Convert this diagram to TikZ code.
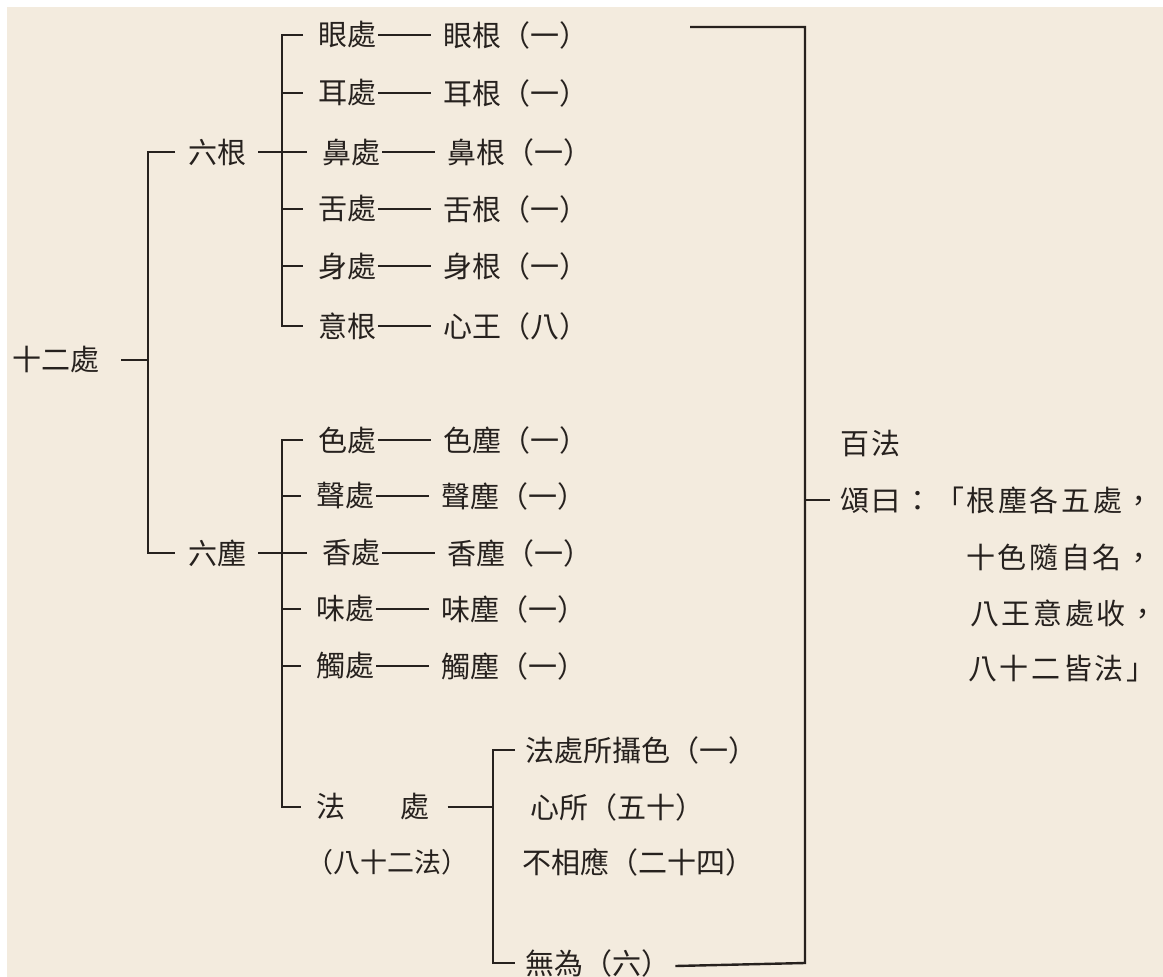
\documentclass[tikz,border=0pt]{standalone}
\usepackage{fontspec}
\newfontfamily\kai{Noto Sans CJK TC}
\newfontfamily\kaiwide[LetterSpace=9]{Noto Sans CJK TC}
\usetikzlibrary{positioning}
\definecolor{paper}{RGB}{243,235,222}
\definecolor{ink}{RGB}{38,33,30}

\begin{document}
\begin{tikzpicture}[x=1pt,y=-1pt,
  txt/.style={anchor=west,inner sep=0pt,text=ink,font=\kai\fontsize{29}{34}\selectfont},
  small/.style={txt,font=\kai\fontsize{27}{30}\selectfont},
  verse/.style={txt,font=\kaiwide\fontsize{29}{34}\selectfont},
  br/.style={draw=ink,line width=2.4pt},
  lnk/.style={draw=ink,line width=2pt,shorten >=12pt,shorten <=2pt}]
  \fill[white] (0,0) rectangle (1163,977);
  \fill[paper] (7,7) rectangle (1163,977);

  % root and the two groups
  \node[txt] (root) at (12,360) {十二處};
  \node[txt] (gen)  at (188,152) {六根};
  \node[txt] (chen) at (188,553) {六塵};

  % six roots
  \node[txt] (y1) at (318,35)  {眼處};
  \node[txt] (y2) at (318,93)  {耳處};
  \node[txt] (y3) at (322,152) {鼻處};
  \node[txt] (y4) at (318,209) {舌處};
  \node[txt] (y5) at (318,266) {身處};
  \node[txt] (y6) at (318,326) {意根};
  \node[txt,right=67pt of y1] (g1) {眼根（一）};
  \node[txt,right=67pt of y2] (g2) {耳根（一）};
  \node[txt,right=67pt of y3] (g3) {鼻根（一）};
  \node[txt,right=67pt of y4] (g4) {舌根（一）};
  \node[txt,right=67pt of y5] (g5) {身根（一）};
  \node[txt,right=67pt of y6] (g6) {心王（八）};

  % six objects
  \node[txt] (c1) at (318,440) {色處};
  \node[txt] (c2) at (316,496) {聲處};
  \node[txt] (c3) at (322,553) {香處};
  \node[txt] (c4) at (316,609) {味處};
  \node[txt] (c5) at (316,666) {觸處};
  \node[txt,right=67pt of c1] (d1) {色塵（一）};
  \node[txt,right=67pt of c2] (d2) {聲塵（一）};
  \node[txt,right=67pt of c3] (d3) {香塵（一）};
  \node[txt,right=67pt of c4] (d4) {味塵（一）};
  \node[txt,right=67pt of c5] (d5) {觸塵（一）};

  % dharma base
  \node[txt] (fa)  at (316,807) {法\hspace{1.9em}處};
  \node[small] (fab) at (306,862) {（八十二法）};
  \node[txt] (f1) at (525,750) {法處所攝色（一）};
  \node[txt] (f2) at (530,807) {心所（五十）};
  \node[txt] (f3) at (522,862) {不相應（二十四）};
  \node[txt] (f4) at (525,963) {無為（六）};

  % verse
  \node[verse] (bai)  at (840,443) {百法};
  \node[verse] (song) at (840,500) {頌曰：「根塵各五處，};
  \node[verse] (s2)   at (966,557) {十色隨自名，};
  \node[verse] (s3)   at (970,613) {八王意處收，};
  \node[verse] (s4)   at (968,669) {八十二皆法」};

  \coordinate (spA) at (148,0);
  \coordinate (spB) at (282,0);
  \coordinate (spC) at (493,0);
  \coordinate (spD) at (805,0);
  \coordinate (topL) at (690,27);

  % brackets
  \draw[br] ([xshift=22pt]root.east) -- (spA |- root.east);
  \draw[br] ([xshift=-13pt]gen.west) -| (spA |- chen.west) -- ([xshift=-13pt]chen.west);

  \draw[br] ([xshift=-15pt]y1.west) -| (spB |- y6.west) -- ([xshift=-15pt]y6.west);
  \draw[br] (spB |- y2.west) -- ([xshift=-15pt]y2.west);
  \draw[br] ([xshift=12pt]gen.east) -- ([xshift=-15pt]y3.west);
  \draw[br] (spB |- y4.west) -- ([xshift=-15pt]y4.west);
  \draw[br] (spB |- y5.west) -- ([xshift=-15pt]y5.west);

  \draw[br] ([xshift=-15pt]c1.west) -| (spB |- fa.west) -- ([xshift=-15pt]fa.west);
  \draw[br] (spB |- c2.west) -- ([xshift=-15pt]c2.west);
  \draw[br] ([xshift=12pt]chen.east) -- ([xshift=-15pt]c3.west);
  \draw[br] (spB |- c4.west) -- ([xshift=-15pt]c4.west);
  \draw[br] (spB |- c5.west) -- ([xshift=-15pt]c5.west);

  \draw[br] ([xshift=-10pt]f1.west) -| (spC |- f4.west) -- ([xshift=-10pt]f4.west);
  \draw[br] ([xshift=18pt]fa.east) -- (spC |- fa.east);

  \draw[br] (topL) -| (spD |- f4.east) -- ([xshift=5pt,yshift=-3pt]f4.east);
  \draw[br] (spD |- song.west) -- ([xshift=-10pt]song.west);

  % dashes
  \draw[lnk] (y1) -- (g1);
  \draw[lnk] (y2) -- (g2);
  \draw[lnk] (y3) -- (g3);
  \draw[lnk] (y4) -- (g4);
  \draw[lnk] (y5) -- (g5);
  \draw[lnk] (y6) -- (g6);
  \draw[lnk] (c1) -- (d1);
  \draw[lnk] (c2) -- (d2);
  \draw[lnk] (c3) -- (d3);
  \draw[lnk] (c4) -- (d4);
  \draw[lnk] (c5) -- (d5);
\end{tikzpicture}
\end{document}
